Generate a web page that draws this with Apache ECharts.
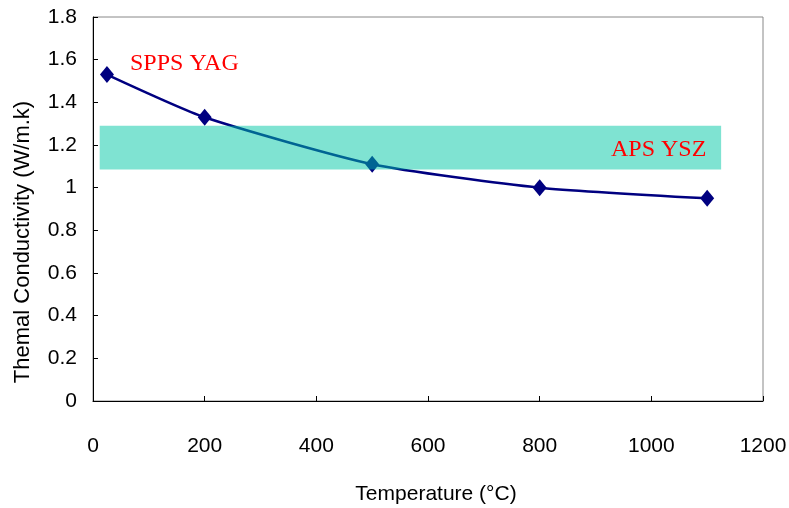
<!DOCTYPE html>
<html>
<head>
<meta charset="utf-8">
<script src="https://cdn.jsdelivr.net/npm/echarts@6/dist/echarts.min.js"></script>
<style>
  html, body { margin: 0; padding: 0; background: #fff; }
  #chart { width: 789px; height: 508px; }
</style>
</head>
<body>
<div id="chart"></div>
<script>
// 数据
const temps = [25, 200, 500, 800, 1100];
const kValues = [1.53, 1.33, 1.11, 1.0, 0.95];
const yszX = [12, 1125];
const yszK = [1.085, 1.29];

const sansFont = '"Liberation Sans", Arial, sans-serif';
const serifFont = '"Liberation Serif", "Times New Roman", serif';

let option = {
    animation: false,
    grid: {
        left: 93,
        right: 26,
        top: 17,
        bottom: 107,
        outerBoundsMode: 'none',
        show: true,
        borderColor: '#888',
        borderWidth: 1
    },
    xAxis: {
        type: 'value',
        min: 0,
        max: 1200,
        interval: 200,
        name: 'Temperature (°C)',
        nameLocation: 'middle',
        nameGap: 83,
        nameTextStyle: { fontFamily: sansFont, fontSize: 21, color: '#000', padding: [0, 0, 0, 16] },
        axisLine: { lineStyle: { color: '#000', width: 1 } },
        axisTick: { inside: true, length: 5, lineStyle: { color: '#000' } },
        axisLabel: {
            fontFamily: sansFont, fontSize: 21, color: '#000', margin: 35,
            formatter: v => String(v)
        },
        splitLine: { show: false }
    },
    yAxis: {
        type: 'value',
        min: 0,
        max: 1.8,
        interval: 0.2,
        axisLine: { show: true, lineStyle: { color: '#000', width: 1 } },
        axisTick: { show: true, inside: true, length: 5, lineStyle: { color: '#000' } },
        axisLabel: {
            fontFamily: sansFont, fontSize: 21, color: '#000', margin: 16,
            formatter: v => String(+v.toFixed(1))
        },
        splitLine: { show: false }
    },
    series: [{
        name: 'SPPS YAG',
        type: 'line',
        smooth: 0.2,
        data: temps.map((t, i) => [t, kValues[i]]),
        symbol: 'diamond',
        symbolSize: [14, 17],
        itemStyle: { color: '#000080' },
        lineStyle: { color: '#000080', width: 2.5 },
        z: 2
    }, {
        name: 'APS YSZ',
        type: 'line',
        data: [],
        z: 5,
        markArea: {
            silent: true,
            z: 5,
            itemStyle: { color: 'rgba(0, 200, 165, 0.5)' },
            label: { show: false },
            data: [[
                { coord: [yszX[0], yszK[1]] },
                { coord: [yszX[1], yszK[0]] }
            ]]
        }
    }],
    graphic: [{
        type: 'text',
        x: 23,
        y: 242,
        rotation: Math.PI / 2,
        z: 10,
        style: {
            text: 'Themal Conductivity (W/m.k)',
            fill: '#000',
            font: '22px ' + sansFont,
            textAlign: 'center',
            textVerticalAlign: 'middle'
        }
    }, {
        type: 'text',
        left: 130,
        top: 52,
        z: 10,
        style: { text: 'SPPS YAG', fill: '#ff0000', font: '24px ' + serifFont }
    }, {
        type: 'text',
        left: 611,
        top: 138,
        z: 10,
        style: { text: 'APS YSZ', fill: '#ff0000', font: '24px ' + serifFont }
    }]
};

echarts.init(document.getElementById('chart')).setOption(option);
</script>
</body>
</html>
